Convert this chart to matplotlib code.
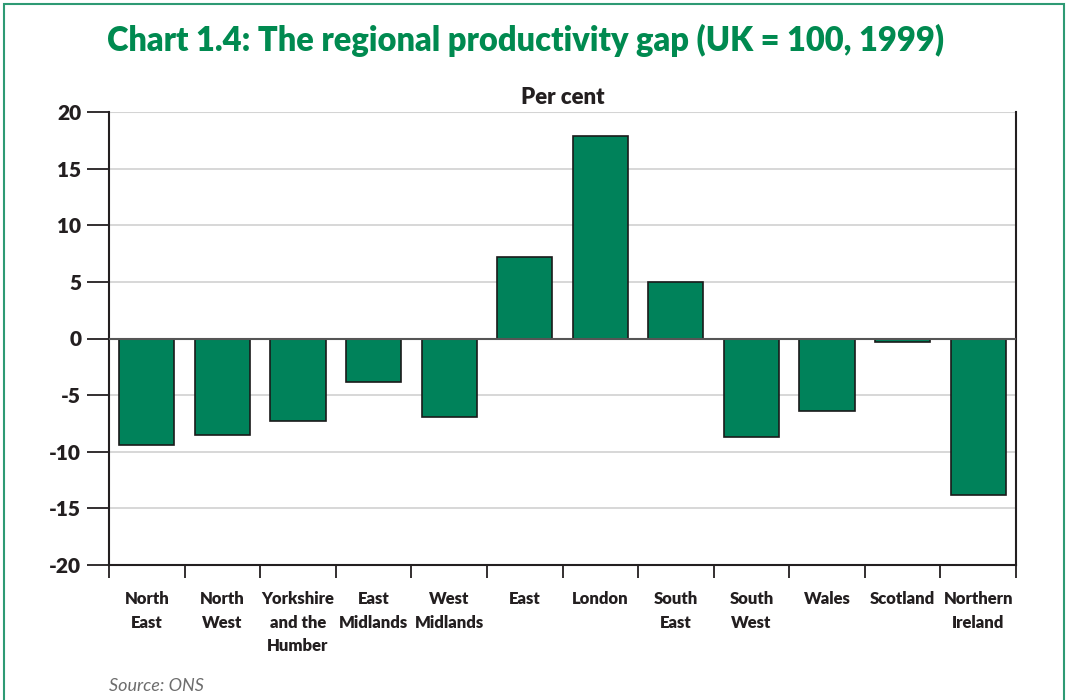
import matplotlib
matplotlib.use("Agg")
import matplotlib.pyplot as plt
from matplotlib.patches import Rectangle
import numpy as np

categories = ["North\nEast", "North\nWest", "Yorkshire\nand the\nHumber", "East\nMidlands",
              "West\nMidlands", "East", "London", "South\nEast", "South\nWest", "Wales",
              "Scotland", "Northern\nIreland"]
values = [-9.4, -8.5, -7.3, -3.8, -6.9, 7.2, 17.9, 5.0, -8.7, -6.4, -0.3, -13.8]
yticks = [20, 15, 10, 5, 0, -5, -10, -15, -20]

GREEN = "#00825a"
TITLE_GREEN = "#008a50"
plt.rcParams["font.family"] = ["Lato", "DejaVu Sans"]

fig = plt.figure(figsize=(10.66, 7.0), dpi=100)
W, H = 1066, 700
ax = fig.add_axes([109 / W, 1 - 565 / H, (1016 - 109) / W, (565 - 112) / H])

x = np.arange(len(categories))
ax.bar(x, values, width=0.73, color=GREEN, edgecolor="#1a1a1a", linewidth=1.2, zorder=3)
ax.set_xlim(-0.5, len(categories) - 0.5)
ax.set_ylim(-20, 20)
ax.set_yticks(yticks)
ax.set_yticklabels([str(v) for v in yticks], fontweight="heavy", fontsize=15, color="#231f20")
for v in yticks:
    if v not in (0, -20):
        ax.axhline(v, color="#d4d4d4", linewidth=1.3, zorder=1)
ax.axhline(0, color="#555555", linewidth=1.5, zorder=4)

ax.set_xticks(np.arange(len(categories) + 1) - 0.5)
ax.set_xticklabels([])
ax.set_xticks(x, minor=True)
ax.set_xticklabels(categories, minor=True, fontweight="heavy", fontsize=12, color="#231f20",
                   linespacing=1.55, va="top")
ax.tick_params(axis="x", which="major", direction="out", length=9, width=1.3, color="#231f20")
ax.tick_params(axis="x", which="minor", length=0, pad=19)
ax.tick_params(axis="y", direction="out", length=16, width=1.3, color="#231f20", pad=4)

for s in ["left", "right", "bottom"]:
    ax.spines[s].set_linewidth(1.5)
    ax.spines[s].set_color("#231f20")
ax.spines["top"].set_visible(False)
ax.axhline(20, color="#d4d4d4", linewidth=1.5, zorder=1)

ax.set_title("Per cent", fontweight="heavy", fontsize=16, color="#231f20", pad=6)

fig.text(526 / W, 1 - 40 / H, "Chart 1.4: The regional productivity gap (UK = 100, 1999)",
         ha="center", va="center", fontsize=23.5, fontweight="heavy", color=TITLE_GREEN)
fig.text(109 / W, 1 - 686 / H, "Source: ONS", ha="left", va="center", fontsize=13,
         fontstyle="italic", color="#6d6d6d")

fig.patches.append(Rectangle((4 / W, -0.01), (1064 - 4) / W, 1 - 4 / H + 0.01,
                             transform=fig.transFigure, fill=False,
                             edgecolor="#2e9a74", linewidth=1.5))

fig.savefig("out.png", dpi=100)
